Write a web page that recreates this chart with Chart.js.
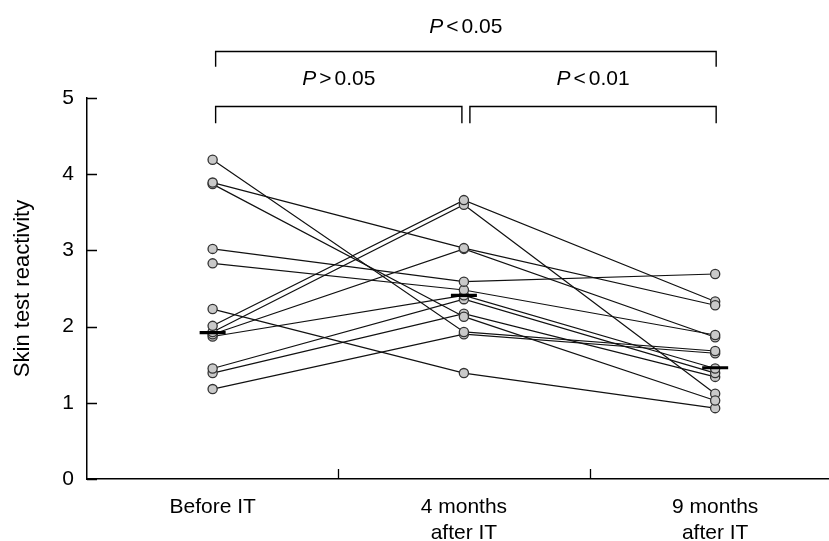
<!DOCTYPE html>
<html>
<head>
<meta charset="utf-8">
<script src="https://cdn.jsdelivr.net/npm/chart.js@4.4.0/dist/chart.umd.min.js"></script>
<style>
  html, body { margin: 0; padding: 0; background: #fff; overflow: hidden; }
  #wrap { width: 857px; height: 541px; }
</style>
</head>
<body>
<div id="wrap"><canvas id="skinChart" width="857" height="541"></canvas></div>
<script>
// timepoints
const categories = ["Before IT", ["4 months", "after IT"], ["9 months", "after IT"]];

// one value per patient, same order in every array
const beforeIT   = [4.19, 3.89, 3.87, 3.02, 2.83, 2.23, 2.01, 1.93, 1.90, 1.87, 1.45, 1.39, 1.18];
const fourMonths = [1.93, 3.03, 2.13, 2.59, 2.48, 1.39, 3.66, 3.60, 3.02, 2.41, 2.36, 2.17, 1.90];
const nineMonths = [1.68, 2.28, 1.03, 2.69, 1.89, 0.93, 2.33, 1.12, 1.86, 1.45, 1.39, 1.34, 1.65];

// group medians (thick bars)
const medians = [1.92, 2.41, 1.46];

const yTicks = [0, 1, 2, 3, 4, 5];

// significance brackets : from category, to category, p text
const brackets = [
  { from: 0, to: 2, op: "<", p: "0.05", level: "top" },
  { from: 0, to: 1, op: ">", p: "0.05", level: "low" },
  { from: 1, to: 2, op: "<", p: "0.01", level: "low" }
];

const fontFam = "'Liberation Sans', Arial, Helvetica, sans-serif";
Chart.defaults.font.family = fontFam;
Chart.defaults.font.size = 21;
Chart.defaults.color = "#000";

const datasets = beforeIT.map((v, i) => ({
  data: [v, fourMonths[i], nineMonths[i]],
  borderColor: "#111",
  borderWidth: 1.2,
  pointRadius: 4.6,
  pointBorderWidth: 1.3,
  pointBackgroundColor: "#c9c9c9",
  pointBorderColor: "#333",
  tension: 0,
  order: 1
}));

datasets.push({
  data: medians,
  showLine: false,
  pointStyle: "line",
  pointRadius: 13,
  pointBorderWidth: 3.2,
  pointBorderColor: "#000",
  order: 0
});

// inward tick marks + brackets with P values
const extras = {
  id: "extras",
  afterDatasetsDraw(chart) {
    const ctx = chart.ctx;
    const xs = chart.scales.x, ys = chart.scales.y;
    const area = chart.chartArea;
    ctx.save();
    ctx.strokeStyle = "#000";
    ctx.lineWidth = 1.3;
    ctx.beginPath();
    yTicks.forEach(t => {
      const y = Math.round(ys.getPixelForValue(t)) + 0.5;
      ctx.moveTo(area.left, y);
      ctx.lineTo(area.left + 10, y);
    });
    for (let i = 0; i < categories.length - 1; i++) {
      const x = Math.round((xs.getPixelForValue(i) + xs.getPixelForValue(i + 1)) / 2) + 0.5;
      ctx.moveTo(x, area.bottom);
      ctx.lineTo(x, area.bottom - 10);
    }
    ctx.stroke();

    brackets.forEach(b => {
      const top = b.level === "top";
      const yLine = Math.round(ys.getPixelForValue(top ? 5.62 : 4.9)) + 0.5;
      const yLeg = ys.getPixelForValue(top ? 5.41 : 4.67);
      const yTxt = ys.getPixelForValue(top ? 5.93 : 5.25);
      let x1 = xs.getPixelForValue(b.from) + 3;
      let x2 = xs.getPixelForValue(b.to) + 1;
      if (!top && b.to === 1) x2 = xs.getPixelForValue(1) - 2;
      if (!top && b.from === 1) x1 = xs.getPixelForValue(1) + 6;
      ctx.lineWidth = 1.4;
      ctx.beginPath();
      ctx.moveTo(x1, yLeg);
      ctx.lineTo(x1, yLine);
      ctx.lineTo(x2, yLine);
      ctx.lineTo(x2, yLeg);
      ctx.stroke();

      // text "P<0.05" with italic P and thin gaps
      const it = "italic 21px " + fontFam, nm = "21px " + fontFam;
      const gap = 3;
      ctx.font = it;
      const wP = ctx.measureText("P").width;
      ctx.font = nm;
      const wOp = ctx.measureText(b.op).width;
      const wNum = ctx.measureText(b.p).width;
      let x = (x1 + x2) / 2 - (wP + wOp + wNum + 2 * gap) / 2;
      ctx.textBaseline = "middle";
      ctx.textAlign = "left";
      ctx.fillStyle = "#000";
      ctx.font = it;
      ctx.fillText("P", x, yTxt);
      x += wP + gap;
      ctx.font = nm;
      ctx.fillText(b.op, x, yTxt);
      x += wOp + gap;
      ctx.fillText(b.p, x, yTxt);
    });
    ctx.restore();
  }
};

new Chart(document.getElementById("skinChart"), {
  type: "line",
  data: { labels: categories, datasets: datasets },
  options: {
    responsive: false,
    animation: false,
    layout: { padding: { top: 98, right: 5, left: 0, bottom: 0 } },
    plugins: { legend: { display: false }, tooltip: { enabled: false } },
    scales: {
      x: {
        type: "category",
        offset: true,
        grid: { offset: true, drawOnChartArea: false, drawTicks: false },
        border: { color: "#000", width: 1.5 },
        ticks: { padding: 15, maxRotation: 0, font: { size: 21, lineHeight: 1.24 } },
        afterFit(scale) { scale.height = 62; }
      },
      y: {
        min: 0,
        max: 5,
        grid: { drawOnChartArea: false, drawTicks: false },
        border: { color: "#000", width: 1.5 },
        ticks: { stepSize: 1, padding: 13, font: { size: 21 } },
        title: { display: true, text: "Skin test reactivity", font: { size: 22 }, padding: { top: 10, bottom: 0 } },
        afterFit(scale) { scale.width = 87; }
      }
    }
  },
  plugins: [extras]
});
</script>
</body>
</html>
